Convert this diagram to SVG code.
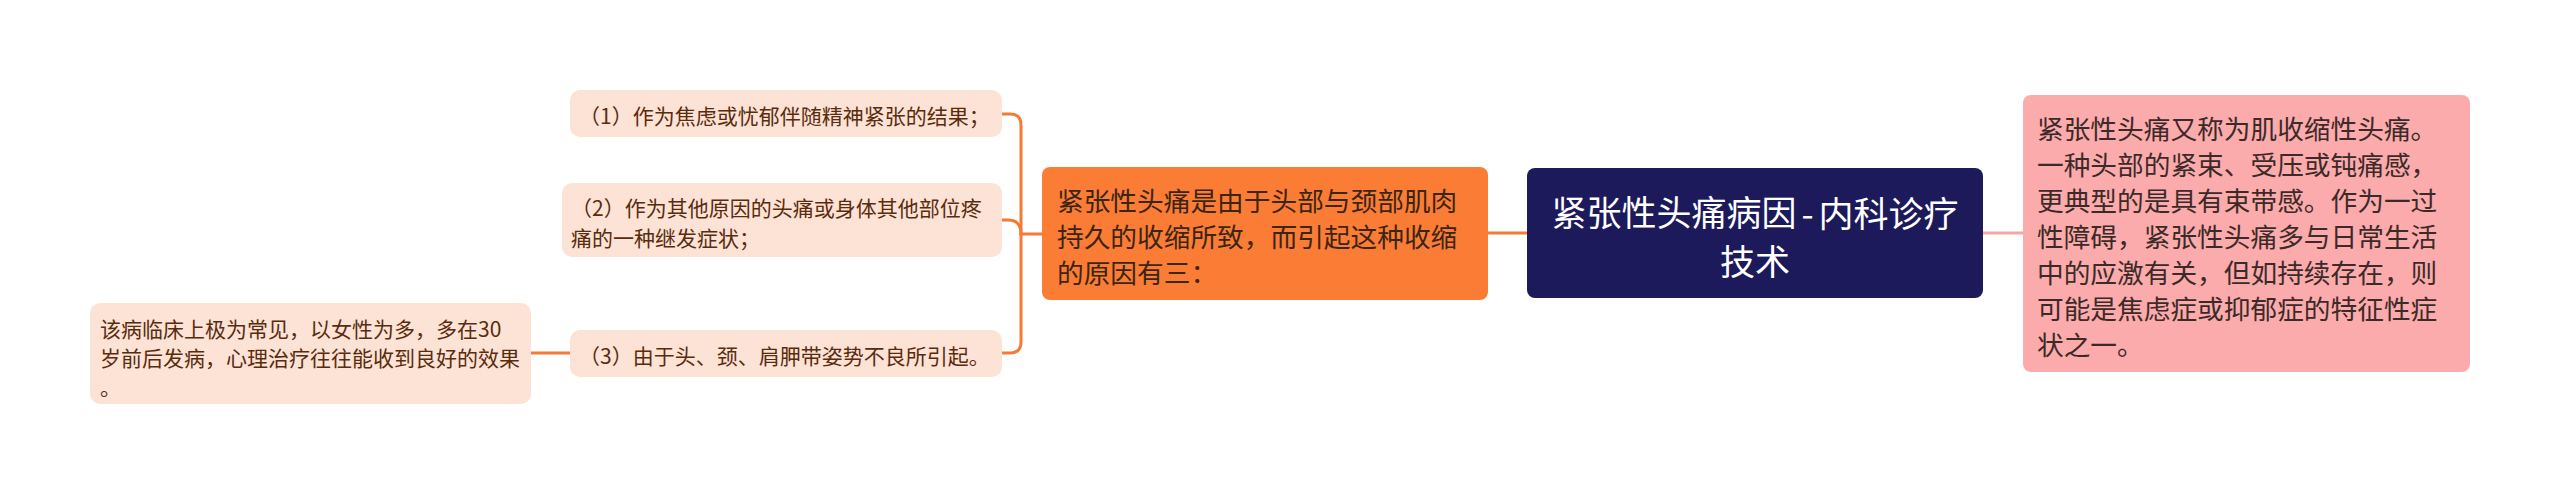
<svg xmlns="http://www.w3.org/2000/svg" width="2560" height="495" viewBox="0 0 2560 495">
<style>
text{font-family:"Noto Sans CJK SC","Noto Sans",sans-serif;dominant-baseline:central}
.root rect{fill:#1c1a5b}
.root text{fill:#ffffff;font-size:35px;text-anchor:middle}
.main rect{fill:#fb7c34}
.main text{fill:#3b2514;font-size:26.7px}
.side rect{fill:#fbabab}
.side text{fill:#3c2a28;font-size:26.7px}
.sub rect{fill:#fde3d6}
.sub text{fill:#5a2c0e;font-size:21px}
.c-or{fill:none;stroke:#f47a35;stroke-width:3;stroke-linecap:round}
.c-pk{fill:none;stroke:#f7a6a6;stroke-width:3}
</style>
<rect width="2560" height="495" fill="#ffffff"/>
<g id="connectors">
<path class="c-or" d="M1527,233 H1488"/>
<path class="c-pk" d="M1983,233 H2023"/>
<path class="c-or" d="M1042,234 H1021"/>
<path class="c-or" d="M1021,234 V125 Q1021,114 1010,114 H1002"/>
<path class="c-or" d="M1021,234 Q1021,220 1008,220 H1002"/>
<path class="c-or" d="M1021,234 V342 Q1021,353 1010,353 H1002"/>
<path class="c-or" d="M570,353 H531"/>
</g>
<g id="root" class="root">
<rect x="1527" y="168" width="456" height="130" rx="8"/>
<text x="1755" y="210.5">紧张性头痛病因<tspan dx="5">-</tspan><tspan dx="5">内科诊疗</tspan></text>
<text x="1755" y="259">技术</text>
</g>
<g id="causes" class="main">
<rect x="1042" y="167" width="446" height="133" rx="8"/>
<text x="1057" y="199">紧张性头痛是由于头部与颈部肌肉</text>
<text x="1057" y="235">持久的收缩所致，而引起这种收缩</text>
<text x="1057" y="271">的原因有三：</text>
</g>
<g id="definition" class="side">
<rect x="2023" y="95" width="447" height="277" rx="8"/>
<text x="2037" y="127">紧张性头痛又称为肌收缩性头痛。</text>
<text x="2037" y="163">一种头部的紧束、受压或钝痛感，</text>
<text x="2037" y="199">更典型的是具有束带感。作为一过</text>
<text x="2037" y="235">性障碍，紧张性头痛多与日常生活</text>
<text x="2037" y="271">中的应激有关，但如持续存在，则</text>
<text x="2037" y="307">可能是焦虑症或抑郁症的特征性症</text>
<text x="2037" y="343">状之一。</text>
</g>
<g id="cause1" class="sub">
<rect x="570" y="90" width="432" height="47" rx="10"/>
<text x="579" y="115">（1）作为焦虑或忧郁伴随精神紧张的结果；</text>
</g>
<g id="cause2" class="sub">
<rect x="562" y="183" width="440" height="74" rx="10"/>
<text x="571" y="207">（2）作为其他原因的头痛或身体其他部位疼</text>
<text x="571" y="236.5">痛的一种继发症状；</text>
</g>
<g id="cause3" class="sub">
<rect x="570" y="330" width="432" height="47" rx="10"/>
<text x="579" y="355">（3）由于头、颈、肩胛带姿势不良所引起。</text>
</g>
<g id="note" class="sub">
<rect x="90" y="303" width="441" height="101" rx="10"/>
<text x="100" y="328">该病临床上极为常见，以女性为多，多在30</text>
<text x="100" y="357">岁前后发病，心理治疗往往能收到良好的效果</text>
<text x="100" y="386">。</text>
</g>
</svg>
